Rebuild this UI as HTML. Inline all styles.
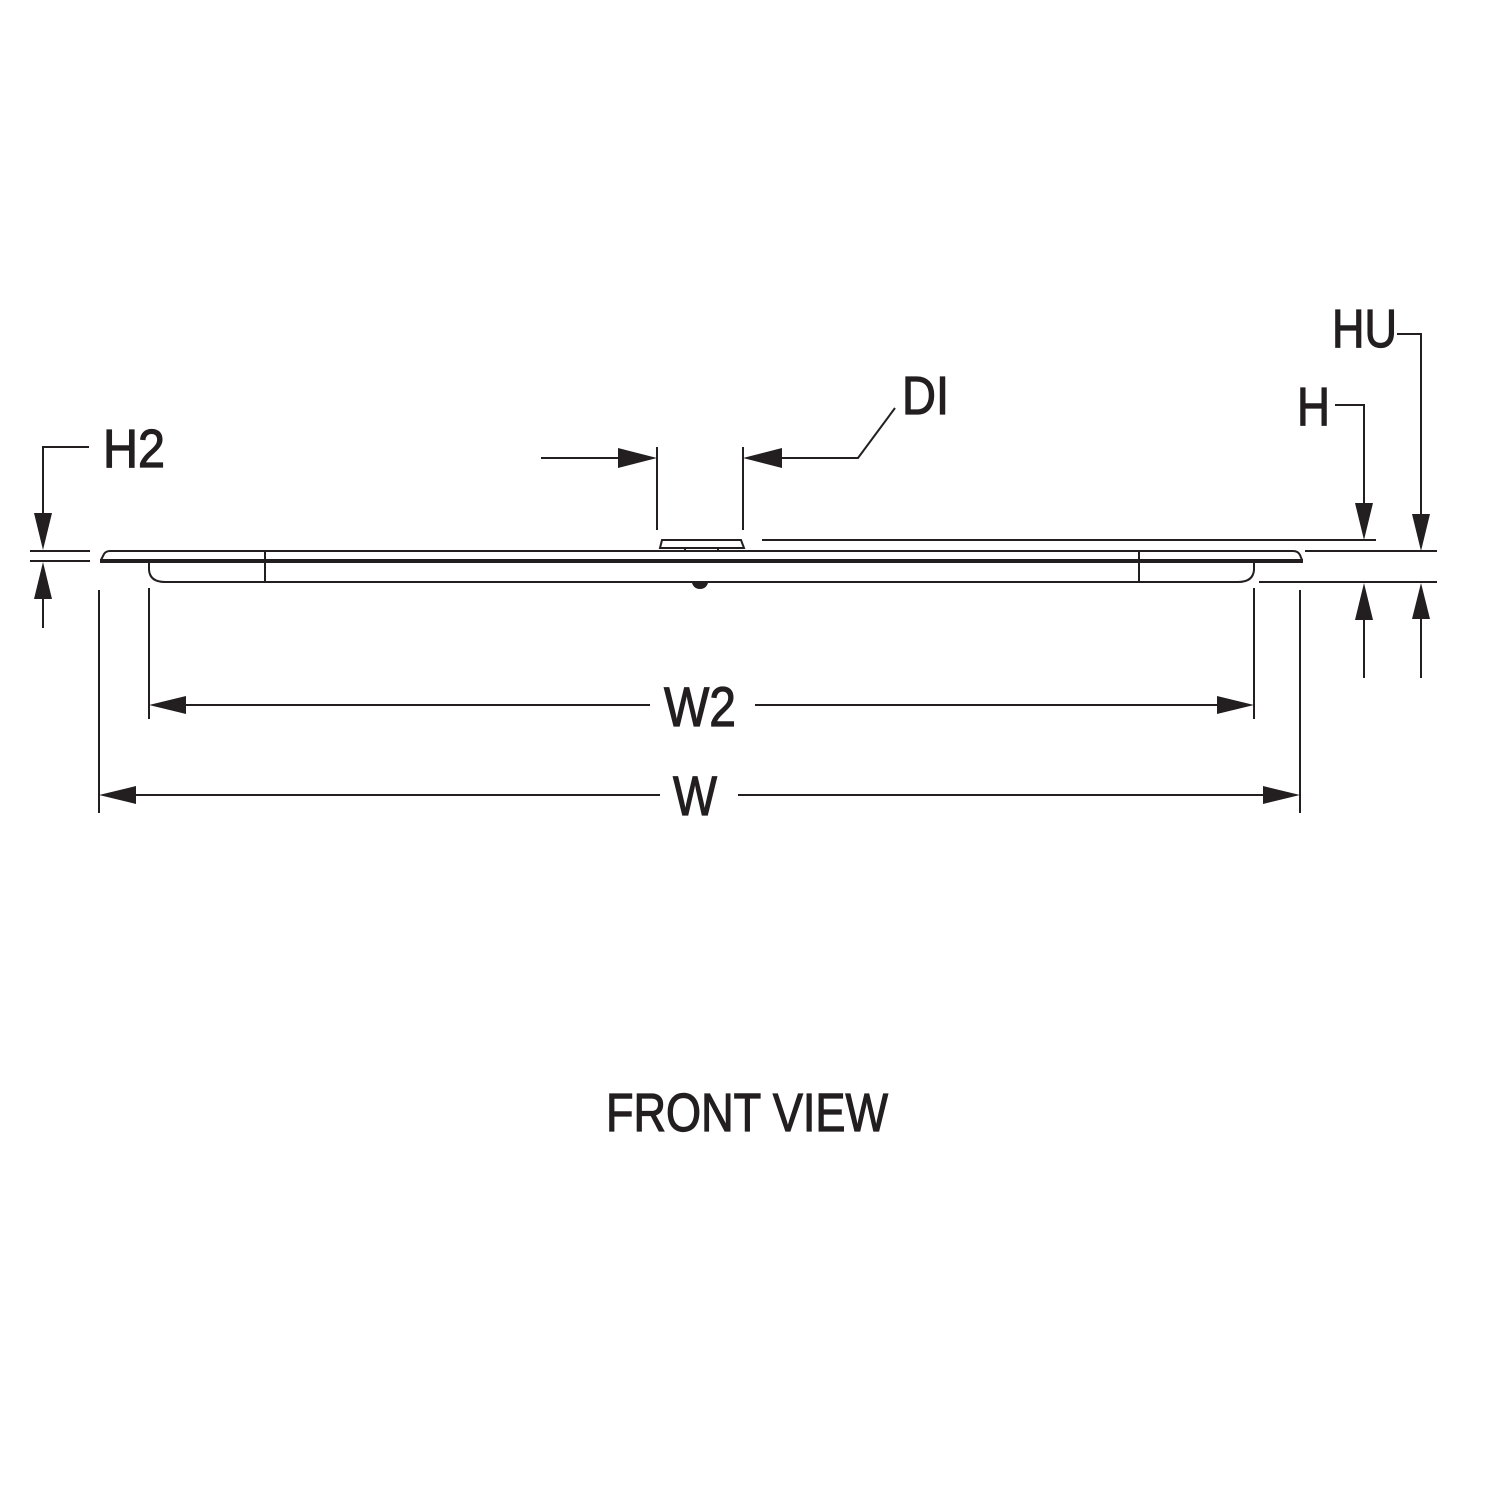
<!DOCTYPE html>
<html><head><meta charset="utf-8"><style>html,body{margin:0;padding:0;background:#fff}svg{display:block}</style></head>
<body>
<svg width="1500" height="1500" viewBox="0 0 1500 1500" xmlns="http://www.w3.org/2000/svg">
<g fill="none" stroke="#231f20" stroke-width="2">
<path d="M101,560 L104,554 Q106,551 110,551 L1293,551 Q1298,551 1300,555 L1302,560"/>
<line x1="100" y1="561" x2="1303" y2="561" stroke-width="4"/>
<path d="M149,563 L149,570 Q150,582 165,582 L1238,582 Q1253,582 1254,570 L1254,563"/>
<line x1="265" y1="551" x2="265" y2="582"/>
<line x1="1139" y1="551" x2="1139" y2="582"/>
<path d="M660,548 L662,540 L741,540 L744,548 Z"/>
<line x1="685" y1="548" x2="685" y2="551"/><line x1="718" y1="548" x2="718" y2="551"/>
<path d="M89,447 L43,447 L43,515"/>
<line x1="30" y1="551" x2="90" y2="551"/>
<line x1="30" y1="561" x2="90" y2="561"/>
<line x1="43" y1="598" x2="43" y2="628"/>
<line x1="541" y1="458" x2="620" y2="458"/>
<line x1="657" y1="447" x2="657" y2="530"/>
<line x1="743" y1="447" x2="743" y2="530"/>
<path d="M780,458 L858,458 L895,408"/>
<line x1="762" y1="540" x2="1376" y2="540"/>
<line x1="1305" y1="551" x2="1437" y2="551"/>
<line x1="1259" y1="582" x2="1437" y2="582"/>
<path d="M1335,405 L1364,405 L1364,505"/>
<path d="M1397,334 L1421,334 L1421,516"/>
<line x1="1364" y1="618" x2="1364" y2="678"/>
<line x1="1421" y1="617" x2="1421" y2="678"/>
<line x1="149" y1="588" x2="149" y2="719"/>
<line x1="1254" y1="588" x2="1254" y2="719"/>
<line x1="185" y1="705" x2="650" y2="705"/>
<line x1="755" y1="705" x2="1218" y2="705"/>
<line x1="99" y1="590" x2="99" y2="813"/>
<line x1="1300" y1="590" x2="1300" y2="813"/>
<line x1="135" y1="795" x2="660" y2="795"/>
<line x1="738" y1="795" x2="1264" y2="795"/>
</g>
<g fill="#231f20">
<path d="M692,583 L708,583 Q706,589 700,589 Q694,589 692,583 Z"/>
<polygon points="43,550 34,513 52,513"/>
<polygon points="43,562 34,599 52,599"/>
<polygon points="657,458 618,448 618,468"/>
<polygon points="743,458 782,448 782,468"/>
<polygon points="1364,540 1355,503 1373,503"/>
<polygon points="1421,551 1412,514 1430,514"/>
<polygon points="1364,583 1355,620 1373,620"/>
<polygon points="1421,583 1412,619 1430,619"/>
<polygon points="149,705 186,696 186,714"/>
<polygon points="1254,705 1217,696 1217,714"/>
<polygon points="99,795 136,786 136,804"/>
<polygon points="1300,795 1263,786 1263,804"/>
</g>
<g font-family="Liberation Sans, sans-serif" fill="#231f20" stroke="#231f20" stroke-width="1.2">
<text x="103" y="467" font-size="54" textLength="62" lengthAdjust="spacingAndGlyphs">H2</text>
<text x="902" y="414" font-size="54" textLength="47" lengthAdjust="spacingAndGlyphs">DI</text>
<text x="1297" y="425" font-size="54" textLength="33" lengthAdjust="spacingAndGlyphs">H</text>
<text x="1332" y="347" font-size="54" textLength="65" lengthAdjust="spacingAndGlyphs">HU</text>
<text x="664" y="726" font-size="56" textLength="72" lengthAdjust="spacingAndGlyphs">W2</text>
<text x="673" y="815" font-size="56" textLength="44" lengthAdjust="spacingAndGlyphs">W</text>
<text x="606" y="1131" font-size="54" textLength="282" lengthAdjust="spacingAndGlyphs">FRONT VIEW</text>
</g>
</svg>
</body></html>
